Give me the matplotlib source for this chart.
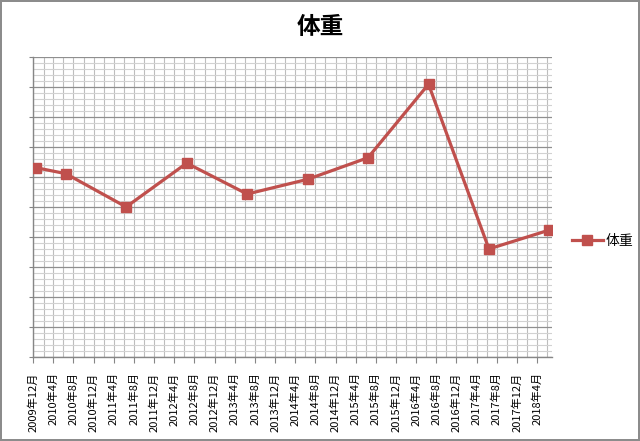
import matplotlib
matplotlib.use("Agg")
import matplotlib.pyplot as plt
import matplotlib.dates as mdates
from matplotlib.ticker import MultipleLocator, NullFormatter
from matplotlib.transforms import ScaledTranslation
import datetime as dt

plt.rcParams['font.family'] = ['Noto Sans CJK JP', 'DejaVu Sans']

# data
dates = ["2009-12-15", "2010-06-15", "2011-06-15", "2012-06-15", "2013-06-15",
         "2014-06-15", "2015-06-15", "2016-06-15", "2017-06-15", "2018-06-15"]
weights = [6.31, 6.11, 5.00, 6.46, 5.43, 5.92, 6.64, 9.09, 3.60, 4.23]
series_name = "体重"
title = "体重"

x = [dt.datetime.strptime(d, "%Y-%m-%d") for d in dates]

fig = plt.figure(figsize=(6.4, 4.41), dpi=100)
fig.patch.set_edgecolor('#8c8c8c')
fig.patch.set_linewidth(1.5)
ax = fig.add_axes([0.052, 0.1905, 0.8105, 0.6805])

ax.plot(x, weights, color='#C0504D', lw=2.3, marker='s', markersize=6.5,
        markeredgecolor='#C0504D', markerfacecolor='#C0504D', label=series_name, zorder=5)

ax.set_xlim(dt.datetime(2009, 12, 1), dt.datetime(2018, 7, 1))
ax.set_ylim(0, 10)

ax.xaxis.set_major_locator(mdates.MonthLocator(bymonth=[4, 8, 12]))
ax.xaxis.set_minor_locator(mdates.MonthLocator(bymonth=[2, 4, 6, 8, 10, 12]))
ax.xaxis.set_major_formatter(mdates.DateFormatter("%Y年%-m月"))
ax.yaxis.set_major_locator(MultipleLocator(1))
ax.yaxis.set_minor_locator(MultipleLocator(0.2))
ax.yaxis.set_major_formatter(NullFormatter())

ax.grid(which='major', axis='y', color='#8f8f8f', lw=0.9)
ax.grid(which='minor', axis='y', color='#d2d2d2', lw=0.8)
ax.grid(which='both', axis='x', color='#bdbdbd', lw=0.8)
ax.set_axisbelow(True)

for lbl in ax.get_xticklabels():
    lbl.set_rotation(90)
    lbl.set_fontsize(8)
    lbl.set_transform(lbl.get_transform() + ScaledTranslation(2/72, 0, fig.dpi_scale_trans))

ax.tick_params(axis='x', which='major', length=4, color='#868686', pad=7)
ax.tick_params(axis='x', which='minor', length=0)
ax.tick_params(axis='y', which='major', length=3, color='#868686')
ax.tick_params(axis='y', which='minor', length=0)

for s in ['top', 'right']:
    ax.spines[s].set_visible(False)
for s in ['left', 'bottom']:
    ax.spines[s].set_color('#868686')
    ax.spines[s].set_linewidth(1.0)

fig.text(0.5, 0.939, title, ha='center', va='center', fontsize=17, fontweight='bold')

fig.legend(loc='center left', bbox_to_anchor=(0.885, 0.453), frameon=False,
           fontsize=10, handlelength=2.2, handletextpad=0.2, borderaxespad=0)

fig.savefig("out.png", dpi=100)
